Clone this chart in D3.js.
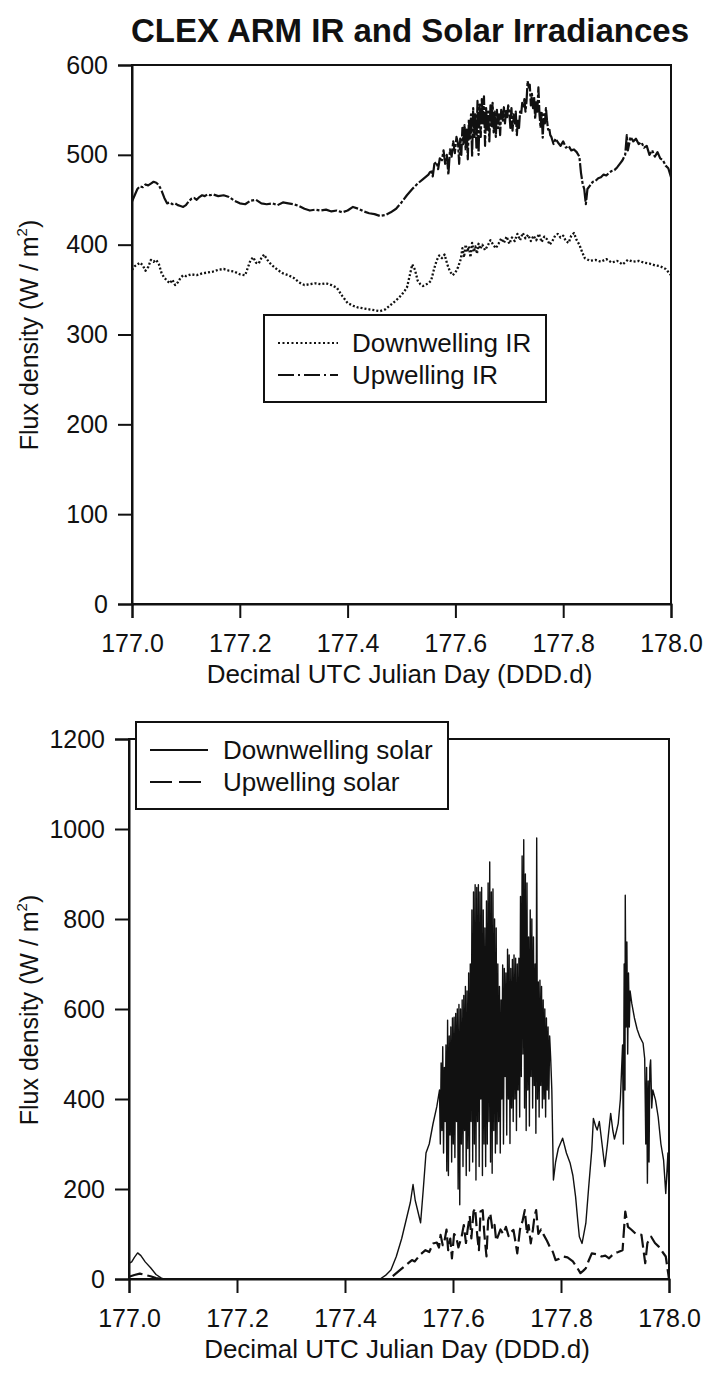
<!DOCTYPE html>
<html>
<head>
<meta charset="utf-8">
<script src="https://cdn.jsdelivr.net/npm/d3@7"></script>
<style>
  html, body { margin: 0; padding: 0; background: #fff; }
  svg text { font-family: "Liberation Sans", Arial, sans-serif; fill: #111; }
</style>
</head>
<body>
<svg id="chart" width="709" height="1383"></svg>
<script>
// ---------------- DATA ----------------
const chartTitle = "CLEX ARM IR and Solar Irradiances";
const xLabel = "Decimal UTC Julian Day (DDD.d)";
const yLabel = "Flux density (W / m";
const xTicks = [177.0, 177.2, 177.4, 177.6, 177.8, 178.0];
const yTicksIR = [0, 100, 200, 300, 400, 500, 600];
const yTicksSolar = [0, 200, 400, 600, 800, 1000, 1200];
const irLegend = ["Downwelling IR", "Upwelling IR"];
const solarLegend = ["Downwelling solar", "Upwelling solar"];

// [decimal day, W/m^2]
const upwellingIR = [
[177.000,448],[177.005,455],[177.010,462],[177.015,465],[177.020,464],[177.025,467],[177.030,466],[177.035,468],
[177.040,470],[177.045,469],[177.050,466],[177.055,460],[177.060,452],[177.065,446],[177.070,447],[177.075,445],
[177.080,446],[177.085,444],[177.090,443],[177.095,442],[177.100,444],[177.105,448],[177.110,451],[177.115,452],
[177.120,450],[177.125,453],[177.130,455],[177.135,454],[177.140,456],[177.145,455],[177.150,456],[177.160,454],
[177.170,455],[177.180,453],[177.190,449],[177.200,446],[177.210,445],[177.220,449],[177.230,450],[177.240,446],
[177.250,445],[177.260,446],[177.270,444],[177.280,447],[177.290,446],[177.300,445],[177.310,443],[177.320,440],
[177.330,438],[177.340,439],[177.350,438],[177.360,439],[177.370,437],[177.380,438],[177.390,436],[177.400,438],
[177.410,442],[177.420,440],[177.430,437],[177.440,435],[177.450,434],[177.460,432],[177.470,433],[177.480,436],
[177.490,440],[177.500,447],[177.510,455],[177.520,462],[177.530,468],[177.540,473],[177.550,478],[177.555,483],
[177.558,476],[177.561,490],[177.565,492],[177.568,484],[177.571,496],[177.575,494],[177.578,505],[177.581,490],
[177.584,500],[177.587,478],[177.590,506],[177.593,498],[177.596,515],[177.599,502],[177.602,520],[177.605,512],
[177.607,490],[177.609,518],[177.611,500],[177.613,530],[177.615,512],[177.617,533],[177.619,505],[177.621,528],
[177.623,495],[177.625,540],[177.627,518],[177.629,545],[177.631,498],[177.633,552],[177.635,520],[177.637,545],
[177.639,508],[177.641,560],[177.643,500],[177.645,556],[177.647,520],[177.649,562],[177.651,535],[177.653,565],
[177.655,510],[177.657,552],[177.659,528],[177.661,548],[177.663,515],[177.665,555],[177.667,532],[177.669,558],
[177.671,525],[177.673,548],[177.675,520],[177.677,550],[177.679,530],[177.681,545],[177.683,522],[177.685,550],
[177.688,538],[177.690,553],[177.692,535],[177.694,550],[177.696,542],[177.698,555],[177.700,548],[177.702,530],
[177.704,552],[177.706,527],[177.708,545],[177.710,535],[177.712,548],[177.714,522],[177.716,540],[177.718,530],
[177.720,548],[177.722,545],[177.724,558],[177.726,552],[177.728,562],[177.730,548],[177.732,560],[177.734,582],
[177.736,575],[177.738,578],[177.740,555],[177.742,568],[177.744,552],[177.746,565],[177.748,540],[177.750,560],
[177.752,548],[177.754,575],[177.756,545],[177.758,530],[177.760,548],[177.762,519],[177.764,545],[177.766,535],
[177.768,552],[177.770,538],[177.772,528],[177.774,530],[177.776,522],[177.778,520],[177.782,512],[177.786,518],
[177.790,514],[177.795,510],[177.800,515],[177.805,508],[177.810,510],[177.815,505],[177.820,506],[177.825,503],
[177.830,498],[177.833,480],[177.836,468],[177.839,462],[177.842,445],[177.845,462],[177.850,466],[177.855,470],
[177.860,471],[177.865,474],[177.870,475],[177.875,478],[177.880,477],[177.885,480],[177.890,482],[177.895,483],
[177.900,486],[177.905,490],[177.910,494],[177.915,500],[177.918,522],[177.920,505],[177.925,520],[177.930,515],
[177.935,518],[177.940,512],[177.945,514],[177.950,508],[177.955,510],[177.960,500],[177.965,505],[177.970,498],
[177.975,503],[177.980,496],[177.985,494],[177.990,488],[177.995,485],[178.000,475]
];

const downwellingIR = [
[177.000,372],[177.005,376],[177.010,378],[177.015,380],[177.020,377],[177.025,371],[177.030,375],[177.035,383],
[177.040,381],[177.045,383],[177.050,378],[177.055,368],[177.060,363],[177.065,360],[177.070,357],[177.075,361],
[177.080,355],[177.085,358],[177.090,363],[177.095,366],[177.100,365],[177.110,367],[177.120,366],[177.130,368],
[177.140,369],[177.150,370],[177.160,372],[177.170,373],[177.180,371],[177.190,370],[177.200,367],[177.210,366],
[177.220,383],[177.225,386],[177.230,380],[177.235,379],[177.240,385],[177.245,389],[177.250,384],[177.255,380],
[177.260,377],[177.270,372],[177.280,368],[177.290,366],[177.300,363],[177.310,358],[177.320,355],[177.330,356],
[177.340,357],[177.350,356],[177.360,357],[177.370,355],[177.380,352],[177.390,343],[177.400,335],[177.410,332],
[177.420,330],[177.430,329],[177.440,328],[177.450,327],[177.460,326],[177.470,328],[177.480,333],[177.490,338],
[177.500,344],[177.510,352],[177.515,365],[177.520,378],[177.525,372],[177.530,360],[177.535,356],[177.540,354],
[177.550,357],[177.555,360],[177.560,372],[177.565,382],[177.570,388],[177.575,385],[177.580,389],[177.585,378],
[177.590,370],[177.595,366],[177.600,369],[177.605,375],[177.610,384],[177.613,396],[177.616,386],[177.619,400],
[177.622,392],[177.625,398],[177.628,386],[177.631,402],[177.634,392],[177.637,398],[177.640,390],[177.643,401],
[177.646,395],[177.650,400],[177.655,394],[177.660,399],[177.665,405],[177.670,400],[177.675,396],[177.680,401],
[177.685,407],[177.690,402],[177.695,409],[177.700,401],[177.705,408],[177.710,404],[177.715,412],[177.720,405],
[177.725,413],[177.730,407],[177.735,411],[177.740,404],[177.745,410],[177.750,405],[177.755,412],[177.760,403],
[177.765,409],[177.770,406],[177.775,400],[177.780,404],[177.785,410],[177.790,412],[177.795,408],[177.800,410],
[177.805,404],[177.810,402],[177.815,410],[177.820,413],[177.825,405],[177.830,400],[177.835,392],[177.840,385],
[177.850,382],[177.860,383],[177.870,381],[177.880,384],[177.890,380],[177.900,382],[177.910,378],[177.920,383],
[177.930,381],[177.940,382],[177.950,380],[177.960,379],[177.970,377],[177.980,376],[177.990,373],[178.000,366]
];

const downwellingSolar = [
[177.000,35],[177.005,38],[177.010,48],[177.016,58],[177.022,52],[177.030,38],[177.040,25],[177.050,10],
[177.060,2],[177.065,0],[177.100,0],[177.200,0],[177.300,0],[177.400,0],[177.465,0],[177.475,8],[177.485,20],
[177.495,50],[177.505,90],[177.515,140],[177.521,170],[177.526,210],[177.530,175],[177.535,150],[177.540,125],
[177.545,200],[177.550,280],[177.556,300],[177.563,345],[177.570,383],
[177.575,420],[177.5765,300],[177.578,480],[177.5795,330],[177.581,516],[177.5825,280],[177.584,470],[177.5855,350],
[177.587,520],[177.5885,240],[177.590,575],[177.5915,230],[177.593,540],[177.5945,320],[177.596,560],[177.5975,260],
[177.599,580],[177.6005,300],[177.602,582],[177.6035,270],[177.605,590],[177.6065,350],[177.608,600],[177.6095,200],
[177.611,610],[177.6125,165],[177.614,600],[177.6155,300],[177.617,620],[177.6185,250],[177.620,630],[177.6215,330],
[177.623,650],[177.6245,230],[177.626,640],[177.6275,290],[177.629,680],[177.6305,240],[177.632,700],[177.6335,350],
[177.635,820],[177.6365,260],[177.638,860],[177.6395,300],[177.641,876],[177.6425,220],[177.644,870],[177.6455,350],
[177.647,876],[177.6485,250],[177.650,860],[177.6515,400],[177.653,870],[177.6545,230],[177.656,820],[177.6575,300],
[177.659,780],[177.6605,250],[177.662,840],[177.6635,300],[177.665,880],[177.6665,350],[177.668,927],[177.6695,260],
[177.671,860],[177.6725,235],[177.674,867],[177.6755,330],[177.677,800],[177.6785,280],[177.680,780],[177.6815,300],
[177.683,700],[177.6845,350],[177.686,650],[177.6875,280],[177.689,620],[177.6905,400],[177.692,698],[177.6935,300],
[177.695,690],[177.6965,450],[177.698,680],[177.6995,320],[177.701,733],[177.7025,400],[177.704,720],[177.7055,301],
[177.707,690],[177.7085,380],[177.710,710],[177.7115,350],[177.713,720],[177.7145,400],[177.716,713],[177.7175,330],
[177.719,700],[177.7205,420],[177.722,713],[177.7235,360],[177.725,850],[177.7265,450],[177.728,940],[177.7295,500],
[177.731,976],[177.7325,380],[177.734,900],[177.7355,330],[177.737,880],[177.7385,420],[177.740,760],[177.7415,340],
[177.743,820],[177.7445,450],[177.746,800],[177.7475,380],[177.749,760],[177.7505,430],[177.752,700],[177.7535,324],
[177.755,980],[177.7565,400],[177.758,660],[177.7595,360],[177.761,664],[177.7625,430],[177.764,650],[177.7655,380],
[177.767,620],[177.7685,400],[177.770,600],[177.7715,360],[177.773,580],[177.7745,420],[177.776,560],[177.7775,400],
[177.779,540],[177.781,487],[177.783,420],[177.786,220],[177.790,260],[177.795,290],[177.803,313],[177.810,280],
[177.817,257],[177.822,230],[177.827,183],[177.831,130],[177.834,94],[177.839,79],[177.846,124],[177.851,200],
[177.857,287],[177.860,357],[177.864,340],[177.867,331],[177.871,350],[177.876,300],[177.881,250],[177.886,300],
[177.892,368],[177.896,330],[177.899,311],[177.903,330],[177.906,346],[177.910,400],[177.914,520],[177.9155,300],
[177.917,700],[177.9185,420],[177.919,853],[177.9205,560],[177.922,749],[177.9235,500],[177.925,680],[177.9265,560],
[177.928,640],[177.931,613],[177.936,580],[177.941,555],[177.946,538],[177.952,524],[177.955,490],[177.957,300],
[177.9585,470],[177.960,213],[177.9615,440],[177.963,260],[177.9645,470],[177.966,487],[177.968,380],[177.970,420],
[177.975,398],[177.980,360],[177.985,300],[177.990,264],[177.994,190],[177.998,280],[178.000,180]
];

const upwellingSolar = [
[177.000,5],[177.010,9],[177.020,12],[177.030,9],[177.040,6],[177.050,2],[177.060,0],[177.100,0],[177.200,0],
[177.300,0],[177.400,0],[177.482,0],[177.500,18],[177.513,31],[177.524,42],[177.529,39],[177.540,55],
[177.549,64],[177.556,60],[177.563,79],[177.570,81],[177.574,70],[177.577,98],[177.581,75],[177.584,83],
[177.588,110],[177.591,64],[177.595,90],[177.598,46],[177.602,100],[177.606,94],[177.610,70],[177.616,94],
[177.620,120],[177.624,80],[177.627,109],[177.631,140],[177.634,90],[177.638,150],[177.641,157],[177.645,95],
[177.648,64],[177.651,150],[177.655,153],[177.658,100],[177.662,50],[177.665,130],[177.669,146],[177.673,110],
[177.677,120],[177.680,85],[177.683,94],[177.688,110],[177.693,100],[177.698,116],[177.703,95],[177.708,105],
[177.712,109],[177.716,80],[177.719,57],[177.724,110],[177.729,130],[177.733,153],[177.737,100],[177.740,120],
[177.744,79],[177.748,110],[177.751,140],[177.754,153],[177.758,100],[177.763,110],[177.768,98],[177.774,85],
[177.779,72],[177.785,60],[177.790,42],[177.797,45],[177.804,50],[177.812,48],[177.822,39],[177.830,25],
[177.836,13],[177.841,18],[177.846,24],[177.851,40],[177.857,57],[177.866,55],[177.875,50],[177.882,52],
[177.889,46],[177.894,52],[177.899,57],[177.906,60],[177.914,64],[177.919,150],[177.924,116],[177.930,110],
[177.938,101],[177.944,99],[177.949,98],[177.956,35],[177.960,80],[177.967,94],[177.974,80],[177.981,72],
[177.988,60],[177.994,50],[178.000,0]
];

// ---------------- DRAW ----------------
const svg = d3.select("#chart");
const FONT = 25;

svg.append("text")
  .attr("x", 410).attr("y", 42)
  .attr("text-anchor", "middle")
  .attr("font-size", 33).attr("font-weight", "bold")
  .text(chartTitle);

function panel(opts) {
  const x = d3.scaleLinear().domain([177, 178]).range([opts.left, opts.right]);
  const y = d3.scaleLinear().domain([0, opts.ymax]).range([opts.bottom, opts.top]);
  const g = svg.append("g");

  // series
  const line = d3.line().x(d => x(d[0])).y(d => y(d[1]));
  opts.series.forEach(s => {
    g.append("path").datum(s.data)
      .attr("d", line)
      .attr("fill", "none")
      .attr("stroke", "#111")
      .attr("stroke-width", s.width)
      .attr("stroke-linejoin", "round")
      .attr("stroke-dasharray", s.dash || null);
  });

  // frame
  g.append("rect")
    .attr("x", opts.left).attr("y", opts.top)
    .attr("width", opts.right - opts.left).attr("height", opts.bottom - opts.top)
    .attr("fill", "none").attr("stroke", "#111").attr("stroke-width", 2);

  // axes
  const ax = g.append("g").attr("transform", `translate(0,${opts.bottom})`)
    .call(d3.axisBottom(x).tickValues(xTicks).tickFormat(d3.format(".1f")).tickSize(14).tickPadding(16));
  const ay = g.append("g").attr("transform", `translate(${opts.left},0)`)
    .call(d3.axisLeft(y).tickValues(opts.yTicks).tickFormat(d3.format("d")).tickSize(14).tickPadding(10));
  [ax, ay].forEach(a => {
    a.select(".domain").attr("stroke", "#111").attr("stroke-width", 2);
    a.selectAll(".tick line").attr("stroke", "#111").attr("stroke-width", 2);
    a.selectAll(".tick text").attr("font-size", FONT).attr("fill", "#111")
      .attr("font-family", '"Liberation Sans", Arial, sans-serif');
  });

  // axis titles
  g.append("text")
    .attr("x", (opts.left + opts.right) / 2 - 2)
    .attr("y", opts.bottom + 79)
    .attr("text-anchor", "middle").attr("font-size", 26)
    .text(xLabel);
  const yt = g.append("text")
    .attr("transform", `translate(38,${opts.ycenter}) rotate(-90)`)
    .attr("text-anchor", "middle").attr("font-size", 25);
  yt.append("tspan").text(yLabel);
  yt.append("tspan").attr("font-size", 15).attr("dy", -11).text("2");
  yt.append("tspan").attr("dy", 11).text(")");

  // legend
  const L = opts.legend;
  g.append("rect")
    .attr("x", L.x).attr("y", L.y).attr("width", L.w).attr("height", L.h)
    .attr("fill", "#fff").attr("stroke", "#111").attr("stroke-width", 2);
  L.items.forEach((it, i) => {
    const cy = L.y + L.firstDy + i * L.step;
    g.append("line")
      .attr("x1", L.sx1).attr("x2", L.sx2).attr("y1", cy).attr("y2", cy)
      .attr("stroke", "#111").attr("stroke-width", 2)
      .attr("stroke-dasharray", it.dash || null);
    g.append("text")
      .attr("x", L.tx).attr("y", cy).attr("dy", "0.35em")
      .attr("font-size", 26).text(it.label);
  });
}

panel({
  left: 132, right: 671, top: 65, bottom: 604, ymax: 600, yTicks: yTicksIR, ycenter: 335,
  series: [
    { data: upwellingIR, width: 2.2, dash: "16,2,3,2" },
    { data: downwellingIR, width: 2.3, dash: "2,2" }
  ],
  legend: {
    x: 264, y: 315, w: 282, h: 87, firstDy: 28, step: 32, sx1: 278, sx2: 338, tx: 352,
    items: [
      { label: irLegend[0], dash: "2,2.5" },
      { label: irLegend[1], dash: "16,4,2,4" }
    ]
  }
});

panel({
  left: 129, right: 669, top: 739, bottom: 1279, ymax: 1200, yTicks: yTicksSolar, ycenter: 1010,
  series: [
    { data: downwellingSolar, width: 1.4 },
    { data: upwellingSolar, width: 2.2, dash: "14,5" }
  ],
  legend: {
    x: 136, y: 722, w: 312, h: 87, firstDy: 28, step: 32, sx1: 150, sx2: 208, tx: 223,
    items: [
      { label: solarLegend[0] },
      { label: solarLegend[1], dash: "22,7" }
    ]
  }
});
</script>
</body>
</html>
